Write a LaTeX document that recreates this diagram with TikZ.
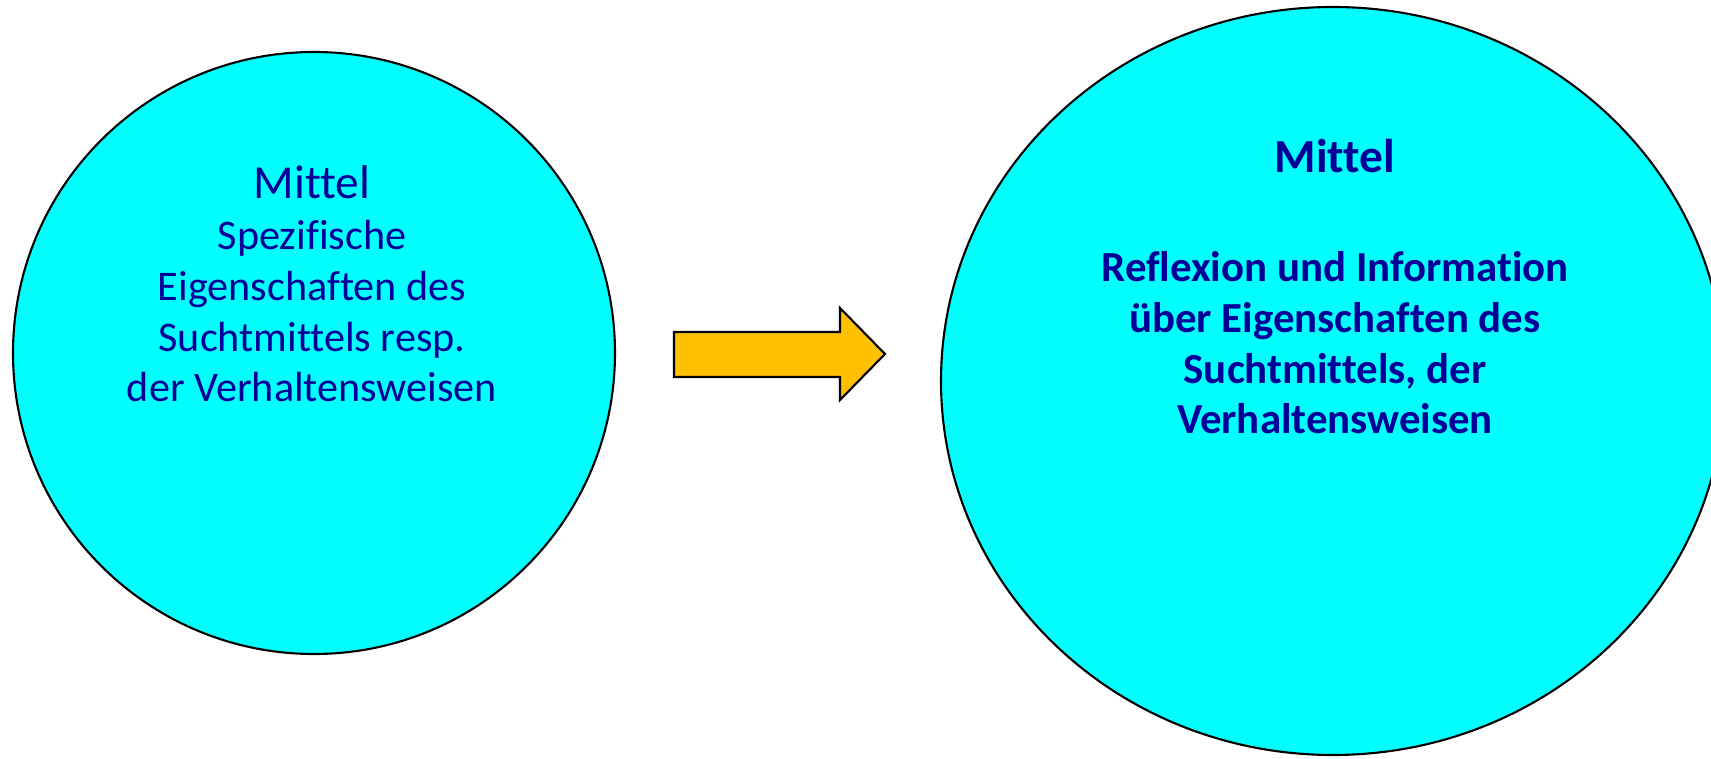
\documentclass[tikz,border=0pt]{standalone}
\usepackage{fontspec}
\setmainfont{Carlito}[Ligatures=NoCommon]
\usetikzlibrary{positioning}
\definecolor{kreiscyan}{HTML}{00FFFF}
\definecolor{textnavy}{HTML}{000099}
\definecolor{pfeilgold}{HTML}{FFC000}

\begin{document}
\begin{tikzpicture}
  \useasboundingbox (0,0) rectangle (17.11,7.59);
  \clip (0,0) rectangle (17.11,7.59);

  % ---- Left circle: old view --------------------------------
  \filldraw[fill=kreiscyan,draw=black,line width=0.6pt] (3.14,4.06) circle (3.01);
  \node[anchor=base,inner sep=0pt,align=center,text=textnavy,
        font=\fontsize{12}{14.5}\selectfont] (altText) at (3.12,3.57)
    {{\fontsize{13.5}{14.5}\selectfont Mittel}\\
     Spezifische\\
     Eigenschaften des\\
     Suchtmittels resp.\\
     der Verhaltensweisen};

  % ---- Block arrow --------------------------------------------
  \filldraw[fill=pfeilgold,draw=black,line width=0.6pt]
    (6.74,4.27) -- (8.40,4.27) -- (8.40,4.51) -- (8.85,4.05)
    -- (8.40,3.59) -- (8.40,3.82) -- (6.74,3.82) -- cycle;

  % ---- Right circle: new view ---------------------------------
  \filldraw[fill=kreiscyan,draw=black,line width=0.6pt] (13.33,3.78) ellipse (3.92 and 3.74);
  \node[anchor=base,inner sep=0pt,align=center,text=textnavy,
        font=\bfseries\fontsize{12.2}{14.5}\selectfont] (neuText) at (13.35,3.25)
    {{\fontsize{13.5}{14.5}\selectfont Mittel}\\[16.4pt]
     Reflexion und Information\\
     über Eigenschaften des\\
     Suchtmittels, der\\
     Verhaltensweisen};

\end{tikzpicture}
\end{document}
